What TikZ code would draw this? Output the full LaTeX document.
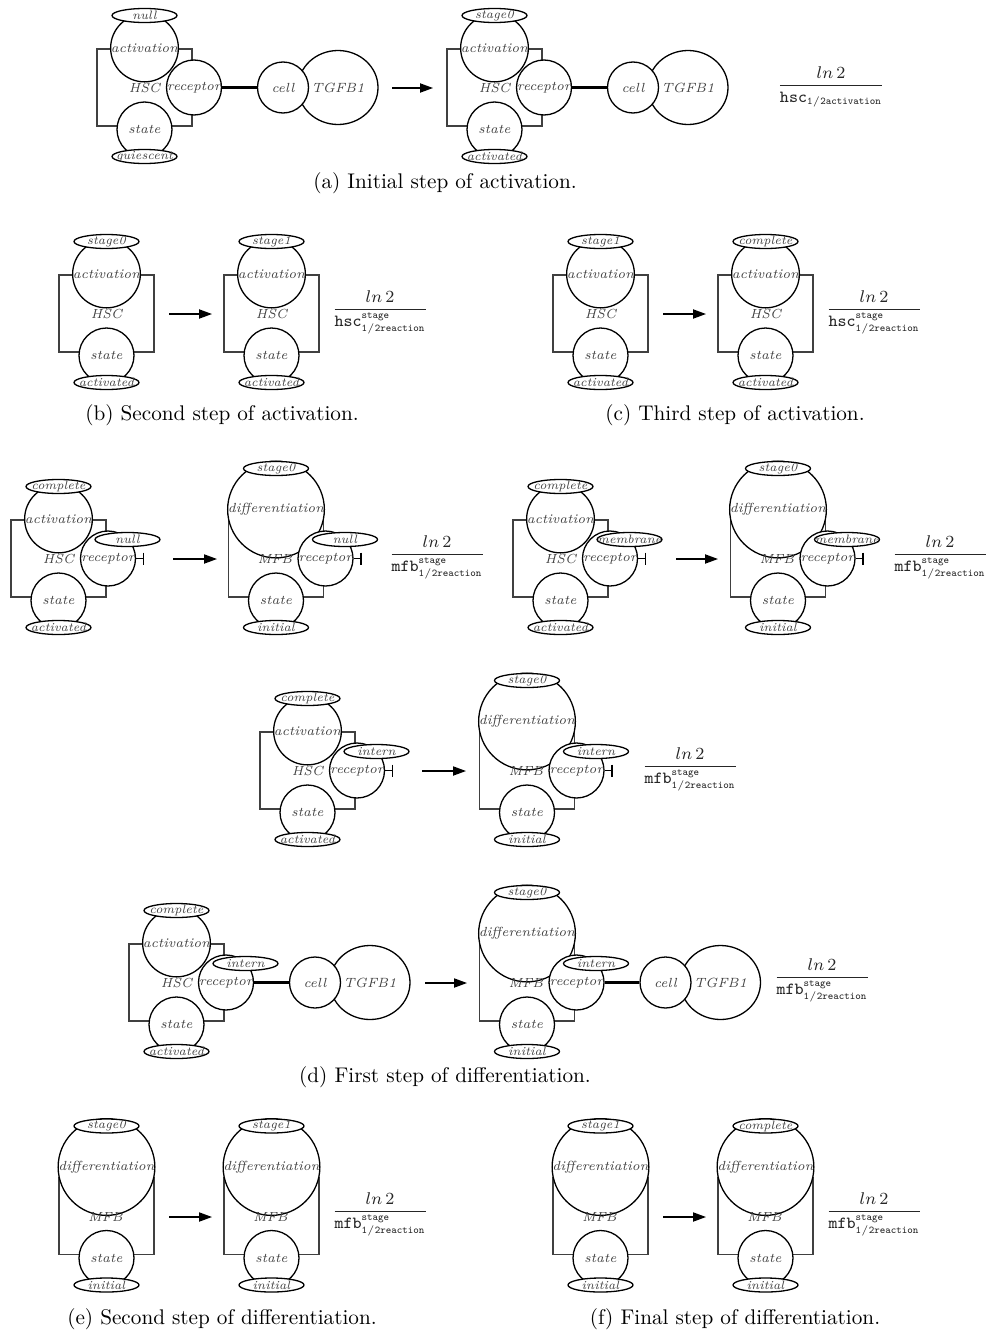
\RequirePackage{fix-cm}
\documentclass[tikz,border=0pt]{standalone}
\usetikzlibrary{shapes.geometric,arrows.meta,calc}
\DeclareMathSizes{8.5}{8.5}{5.2}{4}
\tikzset{
  circ/.style={circle,draw,fill=white,line width=0.65pt,inner sep=0pt,font=\fontsize{6.6}{7}\selectfont\itshape,text=black!75},
  actc/.style={circ,minimum size=31.5pt},
  diffc/.style={circ,minimum size=41pt},
  statec/.style={circ,minimum size=27.5pt},
  recc/.style={circ,minimum size=27.5pt},
  cellc/.style={circ,minimum size=25.5pt},
  tgfe/.style={ellipse,draw,fill=white,line width=0.65pt,inner sep=0pt,minimum width=40pt,minimum height=37pt,font=\fontsize{6.7}{7}\selectfont\itshape,text=black!75},
  tagtext/.style={inner sep=0pt,font=\fontsize{6.1}{7}\selectfont\itshape,text=black!75},
  tagell/.style={ellipse,draw,fill=white,line width=0.65pt,inner sep=0pt,minimum width=32.5pt,minimum height=7pt,label={[tagtext]center:#1}},
  cname/.style={inner sep=0pt,font=\fontsize{6.6}{7}\selectfont\itshape,text=black!75},
  brk/.style={draw=black!75,line width=0.65pt},
  rxn/.style={line width=0.65pt,-{Triangle[length=6.5pt,width=4.6pt]}},
  inh/.style={line width=0.65pt,-{Bar[width=6pt]}},
  lnk/.style={line width=1.3pt},
  fracn/.style={anchor=base,inner sep=0pt,font=\fontsize{8.5}{9}\selectfont,text=black!85},
  capt/.style={inner sep=0pt,font=\fontsize{10.6}{12}\selectfont},
}
\newcommand\cbase[4]{%
  \coordinate (#1c) at (#2,#3);
  \draw[brk] ($(#1c)+(-47.5,-38.5)$) rectangle ($(#1c)+(47.5,38.5)$);
  \node[statec] (#1st) at ($(#1c)+(0,42)$) {state};
  \node[tagell=#4] (#1sttag) at ($(#1c)+(0,69)$) {};
}
\newcommand\hsccx[5]{%
  \cbase{#1}{#2}{#3}{#5}
  \node[actc] (#1top) at ($(#1c)+(0,-39.5)$) {activation};
  \node[tagell=#4] (#1toptag) at ($(#1c)+(0,-72)$) {};
  \node[cname] (#1nm) at (#1c) {HSC};
}
\newcommand\mfbcx[5]{%
  \cbase{#1}{#2}{#3}{#5}
  \node[diffc] (#1top) at ($(#1c)+(0,-49)$) {differentiation};
  \node[tagell=#4] (#1toptag) at ($(#1c)+(0,-90)$) {};
  \node[cname] (#1nm) at ($(#1c)+(-1,0.5)$) {MFB};
}
\newcommand\recp[1]{\node[recc] (#1rec) at ($(#1c)+(49.5,0)$) {receptor};}
\newcommand\rectag[2]{\node[tagell=#2] (#1rectag) at ($(#1rec)+(19.5,-19)$) {};}
\newcommand\recinh[1]{\coordinate (#1inhend) at ($(#1rec.east)+(8,0)$); \draw[inh] (#1rec) -- (#1inhend);}
\newcommand\reclink[1]{%
  \node[tgfe] (#1tgf) at ($(#1rec)+(144,0)$) {TGFB1};
  \node[cellc] (#1cell) at ($(#1rec)+(89,0)$) {cell};
  \draw[lnk] (#1rec) -- (#1cell);}
\newcommand\rxnarrow[4]{%
  \coordinate (#1s) at (#2,#4); \coordinate (#1e) at (#3,#4);
  \draw[rxn] (#1s) -- (#1e);}
\newcommand\hscfrac{$\displaystyle\frac{ln\,2}{\mathtt{hsc}^{\mathtt{stage}}_{\mathtt{1/2reaction}}}$}
\newcommand\mfbfrac{$\displaystyle\frac{ln\,2}{\mathtt{mfb}^{\mathtt{stage}}_{\mathtt{1/2reaction}}}$}
\begin{document}
\begin{tikzpicture}[x=0.5pt,y=-0.5pt]
\useasboundingbox (0,0) rectangle (986,1333);
% (a)
\hsccx{aL}{144.5}{87.5}{null}{quiescent}\recp{aL}\reclink{aL}
\hsccx{aR}{494.5}{87.5}{stage0}{activated}\recp{aR}\reclink{aR}
\rxnarrow{aA}{392}{433}{88}
\node[fracn] (aF) at (831,90) {$\displaystyle\frac{ln\,2}{\mathtt{hsc}_{\mathtt{1/2activation}}}$};
\node[capt] (aC) at (445,183) {(a) Initial step of activation.};
% (b)
\hsccx{bL}{106.5}{313.5}{stage0}{activated}
\hsccx{bR}{271.5}{313.5}{stage1}{activated}
\rxnarrow{bA}{169}{212}{314}
\node[fracn] (bF) at (380,314) {\hscfrac};
\node[capt] (bC) at (222,415) {(b) Second step of activation.};
% (c)
\hsccx{cL}{600.5}{313.5}{stage1}{activated}
\hsccx{cR}{765.5}{313.5}{complete}{activated}
\rxnarrow{cA}{663}{706}{314}
\node[fracn] (cF) at (874,314) {\hscfrac};
\node[capt] (cC) at (735,415) {(c) Third step of activation.};
% (d) row 1
\hsccx{dA}{58.5}{558.5}{complete}{activated}\recp{dA}\rectag{dA}{null}\recinh{dA}
\mfbcx{dB}{276}{558.5}{stage0}{initial}\recp{dB}\rectag{dB}{null}\recinh{dB}
\rxnarrow{dAB}{173}{217}{559}
\node[fracn] (dF1) at (437,559) {\mfbfrac};
\hsccx{dC}{560.5}{558.5}{complete}{activated}\recp{dC}\rectag{dC}{membrane}\recinh{dC}
\mfbcx{dD}{778}{558.5}{stage0}{initial}\recp{dD}\rectag{dD}{membrane}\recinh{dD}
\rxnarrow{dCD}{676}{718}{559}
\node[fracn] (dF2) at (940,559) {\mfbfrac};
% (d) row 2
\hsccx{dE}{307.5}{770.5}{complete}{activated}\recp{dE}\rectag{dE}{intern}\recinh{dE}
\mfbcx{dF}{527}{770.5}{stage0}{initial}\recp{dF}\rectag{dF}{intern}\recinh{dF}
\rxnarrow{dEF}{422}{466}{771}
\node[fracn] (dF3) at (690,771) {\mfbfrac};
% (d) row 3
\hsccx{dG}{176.5}{982.5}{complete}{activated}\recp{dG}\rectag{dG}{intern}\reclink{dG}
\mfbcx{dH}{527}{982.5}{stage0}{initial}\recp{dH}\rectag{dH}{intern}\reclink{dH}
\rxnarrow{dGH}{425}{467}{983}
\node[fracn] (dF4) at (822,982) {\mfbfrac};
\node[capt] (dC) at (445,1077) {(d) First step of differentiation.};
% (e)
\mfbcx{eL}{106.5}{1216}{stage0}{initial}
\mfbcx{eR}{271.5}{1216}{stage1}{initial}
\rxnarrow{eA}{169}{212}{1217}
\node[fracn] (eF) at (380,1216) {\mfbfrac};
\node[capt] (eC) at (222,1319) {(e) Second step of differentiation.};
% (f)
\mfbcx{fL}{600.5}{1216}{stage1}{initial}
\mfbcx{fR}{765.5}{1216}{complete}{initial}
\rxnarrow{fA}{663}{706}{1217}
\node[fracn] (fF) at (874,1216) {\mfbfrac};
\node[capt] (fC) at (735,1319) {(f) Final step of differentiation.};
\end{tikzpicture}
\end{document}
